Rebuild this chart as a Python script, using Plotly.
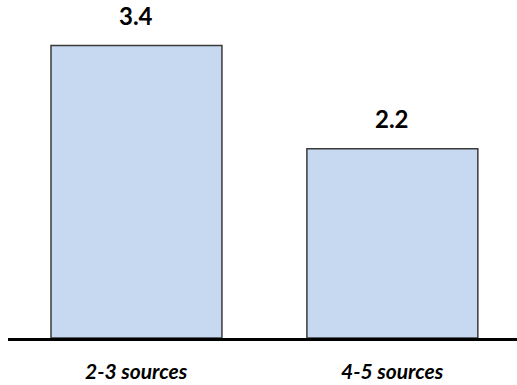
import plotly.graph_objects as go

# Average number of sources, by group
categories = ["2-3 sources", "4-5 sources"]
values = [3.4, 2.2]
value_labels = ["3.4", "2.2"]

BAR_FILL = "#C6D9F1"
BAR_EDGE = "#3a3a3a"
FONT = "Lato"

fig = go.Figure(
    go.Bar(
        x=categories,
        y=values,
        width=0.668,
        marker=dict(color=BAR_FILL, line=dict(color=BAR_EDGE, width=1.5)),
        hoverinfo="skip",
    )
)

# Value labels above each bar
for cat, val, lab in zip(categories, values, value_labels):
    fig.add_annotation(
        x=cat, y=val, text=f"<b>{lab}</b>", showarrow=False,
        yanchor="bottom", yshift=14,
        font=dict(family=FONT, size=24, color="#000000"),
    )

# Category labels below the baseline
for cat in categories:
    fig.add_annotation(
        x=cat, y=0, yref="paper", text=f"<b><i>{cat}</i></b>", showarrow=False,
        yanchor="top", yshift=-19, borderpad=0,
        font=dict(family=FONT, size=21, color="#000000"),
    )

fig.update_layout(
    width=517, height=385,
    margin=dict(l=8, r=0, t=0, b=47),
    paper_bgcolor="white", plot_bgcolor="white",
    showlegend=False,
    xaxis=dict(
        range=[-0.502, 1.487], showticklabels=False, ticks="",
        showgrid=False, zeroline=False,
        showline=True, linecolor="#000000", linewidth=3,
    ),
    yaxis=dict(
        range=[0, 3.93], visible=False, showgrid=False, zeroline=False,
    ),
)

fig.write_html("out.html")
